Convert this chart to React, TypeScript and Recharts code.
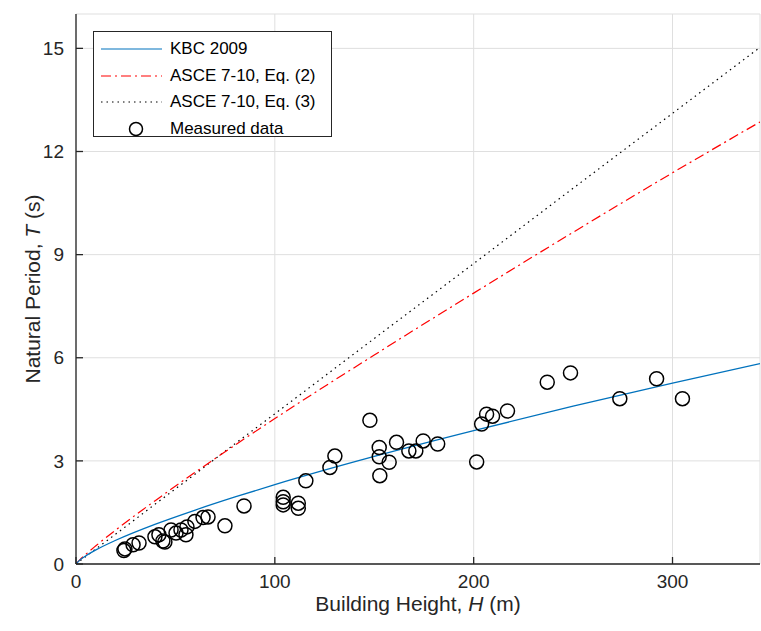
import { ComposedChart, Line, Scatter, XAxis, YAxis, CartesianGrid } from "recharts";

const H_GRID = [0, 2, 5, 10, 20, 40, 60, 80, 100, 150, 200, 250, 300, 344];
const KBC_T = [0, 0.12, 0.24, 0.41, 0.69, 1.16, 1.57, 1.95, 2.31, 3.13, 3.88, 4.59, 5.26, 5.83];
const EQ2_T = [0, 0.125, 0.285, 0.53, 0.99, 1.85, 2.67, 3.46, 4.23, 6.08, 7.88, 9.65, 11.38, 12.86];
const EQ3_T = [0, 0.09, 0.22, 0.44, 0.87, 1.75, 2.62, 3.5, 4.37, 6.56, 8.74, 10.93, 13.11, 15.03];

// measured buildings
const MEASURED_H = [
  24.1, 24.6, 28.7, 31.7, 39.7, 41.7, 43.7, 44.7, 47.8, 50.3, 52.8, 55.3, 55.8, 59.8, 63.9, 66.4, 74.9, 84.5,
  104.2, 104.2, 104.2, 111.8, 111.8, 115.6, 127.7, 130.2, 147.8, 152.5, 152.5, 152.8, 157.5, 161.2, 167.4, 170.9,
  174.6, 181.9, 201.5, 204, 206.5, 209.5, 217, 237, 248.7, 273.5, 292, 305,
];
const MEASURED_T = [
  0.39, 0.44, 0.56, 0.61, 0.79, 0.85, 0.67, 0.64, 0.99, 0.9, 0.99, 0.85, 1.08, 1.24, 1.35, 1.37, 1.11, 1.69,
  1.94, 1.81, 1.72, 1.77, 1.62, 2.42, 2.81, 3.14, 4.18, 3.39, 3.12, 2.57, 2.96, 3.54, 3.29, 3.29, 3.58, 3.49,
  2.97, 4.07, 4.36, 4.3, 4.45, 5.29, 5.56, 4.81, 5.39, 4.81,
];

const X_TICKS = [0, 100, 200, 300];
const Y_TICKS = [0, 3, 6, 9, 12, 15];

const FONT = "'Liberation Sans', Arial, Helvetica, sans-serif";
const AXIS = "#262626";
const BLUE = "#0072BD";
const RED = "#FF0000";

const curveData = H_GRID.map((h, i) => ({ H: h, kbc: KBC_T[i], eq2: EQ2_T[i], eq3: EQ3_T[i] }));
const measured = MEASURED_H.map((h, i) => ({ H: h, T: MEASURED_T[i] }));

const Ring = (props: any) => {
  const { cx, cy } = props;
  if (cx == null || cy == null) return <g />;
  return <circle cx={cx} cy={cy} r={7} fill="none" stroke="#000" strokeWidth={1.5} />;
};

function LegendBox() {
  const rows = [
    { label: "KBC 2009", kind: "line", color: BLUE, dash: undefined },
    { label: "ASCE 7-10, Eq. (2)", kind: "line", color: RED, dash: "10 4 2 4" },
    { label: "ASCE 7-10, Eq. (3)", kind: "line", color: "#000", dash: "1.5 4" },
    { label: "Measured data", kind: "ring", color: "#000", dash: undefined },
  ];
  return (
    <div
      style={{
        position: "absolute",
        left: 93,
        top: 31,
        width: 239,
        height: 106,
        border: "1px solid #262626",
        background: "#fff",
        fontFamily: FONT,
        fontSize: 17,
        color: "#000",
        boxSizing: "border-box",
        paddingTop: 4,
      }}
    >
      {rows.map((r) => (
        <div key={r.label} style={{ display: "flex", alignItems: "center", height: 26.5 }}>
          <svg width={70} height={16} style={{ marginLeft: 6, flex: "none" }}>
            {r.kind === "line" ? (
              <line x1={1} y1={8} x2={62} y2={8} stroke={r.color} strokeWidth={1.2} strokeDasharray={r.dash} />
            ) : (
              <circle cx={36} cy={8} r={6.5} fill="none" stroke="#000" strokeWidth={1.5} />
            )}
          </svg>
          <span style={{ whiteSpace: "nowrap" }}>{r.label}</span>
        </div>
      ))}
    </div>
  );
}

export default function App() {
  return (
    <div style={{ position: "absolute", left: 0, top: 0, width: 761, height: 631, background: "#fff" }}>
      <ComposedChart
        width={761}
        height={631}
        margin={{ top: 14, right: 1, bottom: 0, left: 0 }}
        style={{ fontFamily: FONT }}
      >
        <CartesianGrid stroke="#dfdfdf" strokeWidth={1} vertical horizontal xAxisId="bottom" />
        <XAxis
          xAxisId="bottom"
          type="number"
          dataKey="H"
          domain={[0, 344]}
          ticks={X_TICKS}
          allowDataOverflow
          height={67}
          tickSize={-7}
          tickMargin={18}
          stroke={AXIS}
          strokeWidth={1.3}
          tick={{ fill: AXIS, fontSize: 19 }}
        />
        <XAxis
          xAxisId="top"
          orientation="top"
          type="number"
          dataKey="H"
          domain={[0, 344]}
          ticks={X_TICKS}
          allowDataOverflow
          height={0}
          tickSize={-7}
          tickFormatter={() => ""}
          stroke={AXIS}
          strokeWidth={1.3}
        />
        <YAxis
          type="number"
          domain={[0, 16]}
          ticks={Y_TICKS}
          allowDataOverflow
          width={76}
          tickSize={-7}
          tickMargin={19}
          stroke={AXIS}
          strokeWidth={1.3}
          tick={{ fill: AXIS, fontSize: 19 }}
        />
        <Line
          xAxisId="bottom"
          data={curveData}
          dataKey="eq3"
          type="monotone"
          stroke="#000"
          strokeWidth={1.2}
          strokeDasharray="1.5 4"
          dot={false}
          activeDot={false}
          isAnimationActive={false}
        />
        <Line
          xAxisId="bottom"
          data={curveData}
          dataKey="eq2"
          type="monotone"
          stroke={RED}
          strokeWidth={1.2}
          strokeDasharray="10 4 2 4"
          dot={false}
          activeDot={false}
          isAnimationActive={false}
        />
        <Line
          xAxisId="bottom"
          data={curveData}
          dataKey="kbc"
          type="monotone"
          stroke={BLUE}
          strokeWidth={1.3}
          dot={false}
          activeDot={false}
          isAnimationActive={false}
        />
        <Scatter
          xAxisId="bottom"
          data={measured}
          dataKey="T"
          shape={Ring}
          isAnimationActive={false}
        />
      </ComposedChart>
      <LegendBox />
      <div
        style={{
          position: "absolute",
          left: 76,
          width: 684,
          top: 592,
          textAlign: "center",
          fontFamily: FONT,
          fontSize: 21,
          color: AXIS,
          whiteSpace: "nowrap",
        }}
      >
        Building Height, <i>H</i> (m)
      </div>
      <div
        style={{
          position: "absolute",
          left: 33,
          top: 289,
          transform: "translate(-50%, -50%) rotate(-90deg)",
          fontFamily: FONT,
          fontSize: 21,
          color: AXIS,
          whiteSpace: "nowrap",
        }}
      >
        Natural Period, <i>T</i> (s)
      </div>
    </div>
  );
}
